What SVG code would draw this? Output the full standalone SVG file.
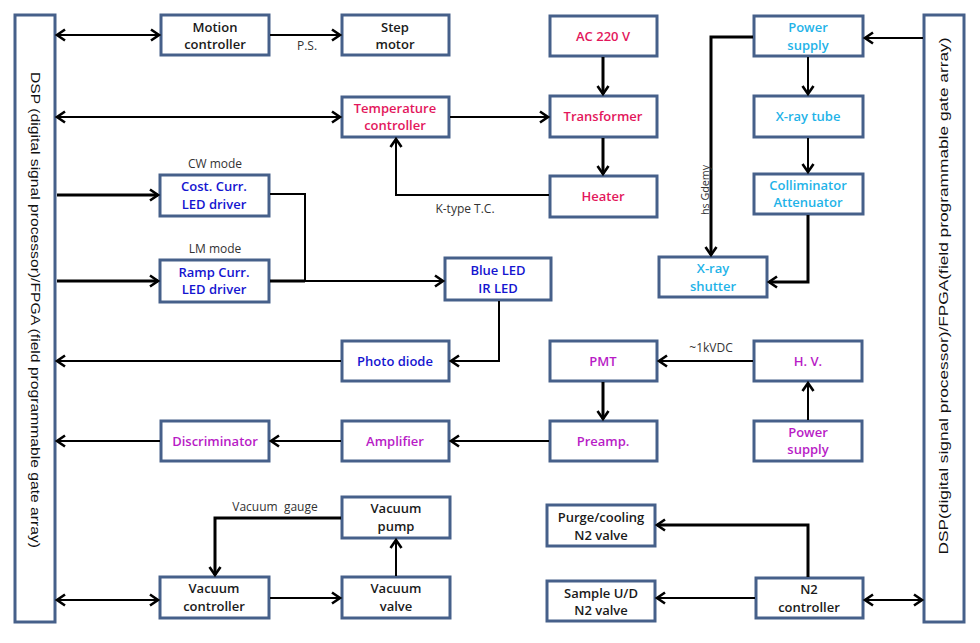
<svg xmlns="http://www.w3.org/2000/svg" width="980" height="643" viewBox="0 0 980 643">
<style>
.box{fill:#fff;stroke:#46608A;stroke-width:3}
.t{font-family:"Open Sans","Noto Sans","Liberation Sans",sans-serif;font-size:13px;font-weight:600;text-anchor:middle}
.k{fill:#1a1a1a}.r{fill:#E3175C}.c{fill:#1FB3E8}.b{fill:#1515D0}.m{fill:#B81CC6}
.lbl{font-family:"Open Sans","Noto Sans","Liberation Sans",sans-serif;font-size:12px;fill:#333;text-anchor:middle;white-space:pre}
.vt{font-family:"Liberation Sans","Noto Sans",sans-serif;font-size:13px;fill:#111;text-anchor:middle}
.w{fill:none;stroke:#000;stroke-width:2}
.W{fill:none;stroke:#000;stroke-width:3}
</style>
<defs>
<marker id="a" markerUnits="userSpaceOnUse" markerWidth="14" markerHeight="14" refX="10" refY="7" orient="auto-start-reverse">
<path d="M2,1.5 L10,7 L2,12.5" fill="none" stroke="#000" stroke-width="2.6"/>
</marker>
</defs>
<g id="dsp-left"><rect class="box" x="15" y="15" width="40" height="607"/>
<text class="vt" transform="translate(35,310) rotate(90)" y="4" textLength="476" lengthAdjust="spacingAndGlyphs">DSP (digital signal processor)/FPGA (field programmable gate array)</text></g>
<g id="dsp-right"><rect class="box" x="924" y="15" width="40" height="607"/>
<text class="vt" transform="translate(944,296) rotate(-90)" y="4" textLength="517" lengthAdjust="spacingAndGlyphs">DSP(digital signal processor)/FPGA(field programmable gate array)</text></g>
<g id="motion"><rect class="box" x="161" y="15" width="108" height="40"/><text class="t k" x="215" y="32">Motion</text><text class="t k" x="215" y="49">controller</text></g>
<g id="step"><rect class="box" x="342" y="15" width="107" height="40"/><text class="t k" x="395" y="32">Step</text><text class="t k" x="395" y="49">motor</text></g>
<g id="temp"><rect class="box" x="342" y="97" width="107" height="40"/><text class="t r" x="395" y="113">Temperature</text><text class="t r" x="395" y="130">controller</text></g>
<g id="ac"><rect class="box" x="550" y="16" width="107" height="40"/><text class="t r" x="603" y="41">AC 220 V</text></g>
<g id="transformer"><rect class="box" x="550" y="96" width="107" height="41"/><text class="t r" x="603" y="121">Transformer</text></g>
<g id="heater"><rect class="box" x="550" y="176" width="107" height="41"/><text class="t r" x="603" y="201">Heater</text></g>
<g id="ps1"><rect class="box" x="754" y="16" width="109" height="40"/><text class="t c" x="808" y="32">Power</text><text class="t c" x="808" y="50">supply</text></g>
<g id="xtube"><rect class="box" x="754" y="96" width="109" height="41"/><text class="t c" x="808" y="121">X-ray tube</text></g>
<g id="coll"><rect class="box" x="754" y="174" width="109" height="40"/><text class="t c" x="808" y="190">Colliminator</text><text class="t c" x="808" y="207">Attenuator</text></g>
<g id="shutter"><rect class="box" x="659" y="257" width="108" height="40"/><text class="t c" x="713" y="273">X-ray</text><text class="t c" x="713" y="291">shutter</text></g>
<g id="cost"><rect class="box" x="160" y="175" width="109" height="41"/><text class="t b" x="214" y="191">Cost. Curr.</text><text class="t b" x="214" y="209">LED driver</text></g>
<g id="ramp"><rect class="box" x="160" y="260" width="109" height="42"/><text class="t b" x="214" y="277">Ramp Curr.</text><text class="t b" x="214" y="294">LED driver</text></g>
<g id="led"><rect class="box" x="445" y="258" width="106" height="42"/><text class="t b" x="498" y="275">Blue LED</text><text class="t b" x="498" y="293">IR LED</text></g>
<g id="photo"><rect class="box" x="342" y="341" width="107" height="40"/><text class="t b" x="395" y="366">Photo diode</text></g>
<g id="pmt"><rect class="box" x="550" y="341" width="107" height="40"/><text class="t m" x="603" y="366">PMT</text></g>
<g id="hv"><rect class="box" x="754" y="341" width="108" height="40"/><text class="t m" x="808" y="366">H. V.</text></g>
<g id="preamp"><rect class="box" x="550" y="421" width="107" height="40"/><text class="t m" x="603" y="446">Preamp.</text></g>
<g id="amp"><rect class="box" x="342" y="421" width="107" height="40"/><text class="t m" x="395" y="446">Amplifier</text></g>
<g id="disc"><rect class="box" x="161" y="421" width="108" height="40"/><text class="t m" x="215" y="446">Discriminator</text></g>
<g id="ps2"><rect class="box" x="754" y="421" width="108" height="40"/><text class="t m" x="808" y="437">Power</text><text class="t m" x="808" y="454">supply</text></g>
<g id="vpump"><rect class="box" x="342" y="497" width="108" height="41"/><text class="t k" x="396" y="513">Vacuum</text><text class="t k" x="396" y="531">pump</text></g>
<g id="vctrl"><rect class="box" x="160" y="577" width="109" height="41"/><text class="t k" x="214" y="593">Vacuum</text><text class="t k" x="214" y="611">controller</text></g>
<g id="vvalve"><rect class="box" x="342" y="577" width="108" height="41"/><text class="t k" x="396" y="593">Vacuum</text><text class="t k" x="396" y="611">valve</text></g>
<g id="purge"><rect class="box" x="547" y="505" width="108" height="41"/><text class="t k" x="601" y="522">Purge/cooling</text><text class="t k" x="601" y="540">N2 valve</text></g>
<g id="sample"><rect class="box" x="547" y="581" width="108" height="40"/><text class="t k" x="601" y="598">Sample U/D</text><text class="t k" x="601" y="615">N2 valve</text></g>
<g id="n2"><rect class="box" x="756" y="578" width="107" height="40"/><text class="t k" x="809" y="594">N2</text><text class="t k" x="809" y="612">controller</text></g>
<g id="connectors">
<path class="w" d="M57,35 H159" marker-start="url(#a)" marker-end="url(#a)"/>
<path class="w" d="M270,35 H340" marker-end="url(#a)"/>
<path class="w" d="M57,117 H340" marker-start="url(#a)" marker-end="url(#a)"/>
<path class="w" d="M450,117 H548" marker-end="url(#a)"/>
<path class="W" d="M603,57 V94" marker-end="url(#a)"/>
<path class="W" d="M603,138 V174" marker-end="url(#a)"/>
<path class="w" d="M549,195 H396 V139" marker-end="url(#a)"/>
<path class="W" d="M57,195 H158" marker-end="url(#a)"/>
<path class="W" d="M57,281 H158" marker-end="url(#a)"/>
<path class="w" d="M270,194 H305 V281"/>
<path class="W" d="M270,281 H305"/>
<path class="w" d="M305,281 H443" marker-end="url(#a)"/>
<path class="w" d="M499,301 V361 H451" marker-end="url(#a)"/>
<path class="w" d="M341,361 H57" marker-end="url(#a)"/>
<path class="w" d="M753,361 H659" marker-end="url(#a)"/>
<path class="W" d="M603,382 V419" marker-end="url(#a)"/>
<path class="w" d="M808,420 V383" marker-end="url(#a)"/>
<path class="w" d="M549,441 H451" marker-end="url(#a)"/>
<path class="w" d="M341,441 H271" marker-end="url(#a)"/>
<path class="w" d="M160,441 H57" marker-end="url(#a)"/>
<path class="w" d="M923,38 H865" marker-end="url(#a)"/>
<path class="w" d="M808,57 V94" marker-end="url(#a)"/>
<path class="w" d="M808,138 V172" marker-end="url(#a)"/>
<path class="W" d="M808,215 V282 H769" marker-end="url(#a)"/>
<path class="W" d="M753,37 H711 V255" marker-end="url(#a)"/>
<path class="W" d="M341,518 H215 V575" marker-end="url(#a)"/>
<path class="w" d="M270,598 H340" marker-end="url(#a)"/>
<path class="w" d="M396,576 V540" marker-end="url(#a)"/>
<path class="w" d="M57,600 H158" marker-start="url(#a)" marker-end="url(#a)"/>
<path class="W" d="M808,577 V525 H657" marker-end="url(#a)"/>
<path class="w" d="M755,598 H657" marker-end="url(#a)"/>
<path class="w" d="M865,600 H922" marker-start="url(#a)" marker-end="url(#a)"/>
</g>
<g id="labels">
<text class="lbl" x="307" y="50">P.S.</text>
<text class="lbl" x="465" y="213">K-type T.C.</text>
<text class="lbl" x="215" y="168">CW mode</text>
<text class="lbl" x="215" y="253">LM mode</text>
<text class="lbl" x="711" y="352">~1kVDC</text>
<text class="lbl" x="275" y="511">Vacuum  gauge</text>
<text class="lbl" transform="translate(706,190) rotate(-90)" y="3" style="font-size:10px" textLength="50" lengthAdjust="spacingAndGlyphs">hs Gdemy</text>
</g>
</svg>
